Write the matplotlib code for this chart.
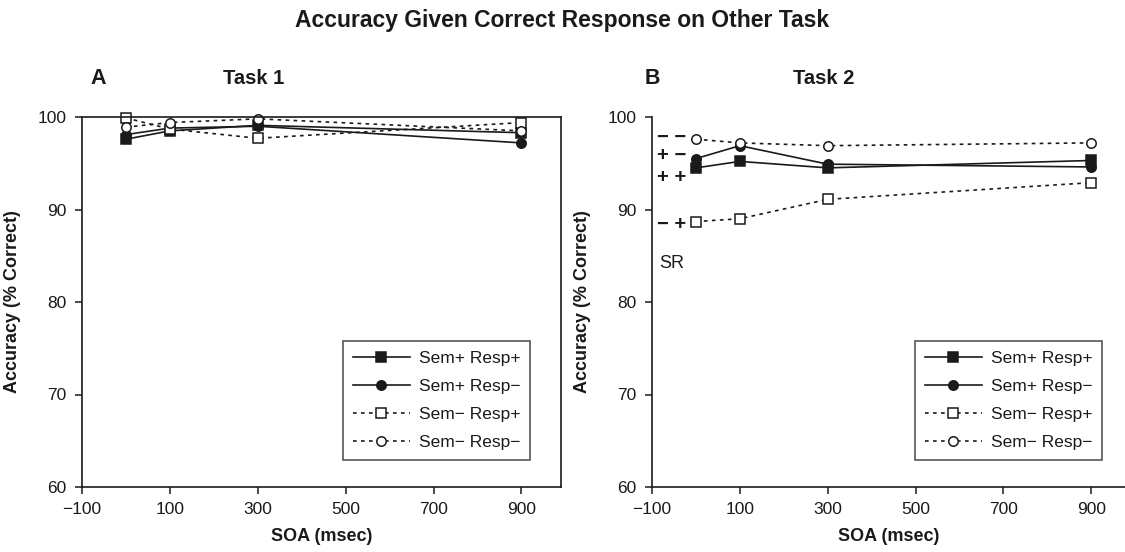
import matplotlib
matplotlib.use("Agg")
import matplotlib.pyplot as plt

plt.rcParams['font.family'] = ['Liberation Sans', 'DejaVu Sans']

soa = [0, 100, 300, 900]
series_labels = ["Sem+ Resp+", "Sem+ Resp\u2212", "Sem\u2212 Resp+", "Sem\u2212 Resp\u2212"]

task1_sp_rp = [97.6, 98.5, 99.1, 98.3]
task1_sp_rm = [98.1, 98.8, 99.0, 97.2]
task1_sm_rp = [99.9, 98.7, 97.7, 99.4]
task1_sm_rm = [98.9, 99.4, 99.8, 98.5]

task2_sp_rp = [94.5, 95.2, 94.5, 95.3]
task2_sp_rm = [95.5, 96.9, 94.9, 94.6]
task2_sm_rp = [88.7, 89.0, 91.1, 92.9]
task2_sm_rm = [97.6, 97.2, 96.9, 97.2]

sr_labels = ["\u2212 \u2212", "+ \u2212", "+ +", "\u2212 +"]
sr_label_y = [97.8, 95.8, 93.5, 88.4]

xticks = [-100, 100, 300, 500, 700, 900]
yticks = [60, 70, 80, 90, 100]

K = '#1a1a1a'
dash = (0, (2.2, 2.6))
styles = [
    dict(linestyle='-', marker='s', mfc=K, mec=K),
    dict(linestyle='-', marker='o', mfc=K, mec=K),
    dict(linestyle=dash, marker='s', mfc='white', mec=K),
    dict(linestyle=dash, marker='o', mfc='white', mec=K),
]

fig = plt.figure(figsize=(11.25, 5.52), dpi=100)
axA = fig.add_axes([82/1125, 65/552, 479/1125, 370/552])
axB = fig.add_axes([652/1125, 65/552, 473/1125, 370/552])


def draw(ax, data, xmax, box, legend_x):
    for vals, st, lab in zip(data, styles, series_labels):
        ax.plot(soa, vals, color=K, linewidth=1.2, markersize=6.8,
                markeredgewidth=1.1, label=lab, clip_on=False, **st)
    ax.set_xlim(-100, xmax)
    ax.set_ylim(60, 100)
    ax.set_xticks(xticks)
    ax.set_xticklabels([f"\u2212{abs(t)}" if t < 0 else str(t) for t in xticks])
    ax.set_yticks(yticks)
    ax.tick_params(direction='out', length=5, width=1.1, labelsize=12.5,
                   colors=K, pad=6)
    for s in ax.spines.values():
        s.set_linewidth(1.2)
        s.set_color(K)
    if not box:
        ax.spines['top'].set_visible(False)
        ax.spines['right'].set_visible(False)
    ax.set_xlabel("SOA (msec)", fontsize=13, fontweight='bold', color=K, labelpad=8)
    ax.set_ylabel("Accuracy (% Correct)", fontsize=13, fontweight='bold', color=K, labelpad=12)
    leg = ax.legend(loc='lower right', bbox_to_anchor=(legend_x, 0.073),
                    fontsize=12.5, frameon=True, fancybox=False, edgecolor=K,
                    handlelength=3.3, handletextpad=0.5, labelspacing=0.75,
                    borderpad=0.55, borderaxespad=0)
    leg.get_frame().set_linewidth(1.1)
    for t in leg.get_texts():
        t.set_color(K)


draw(axA, [task1_sp_rp, task1_sp_rm, task1_sm_rp, task1_sm_rm], 990, True, 0.935)
draw(axB, [task2_sp_rp, task2_sp_rm, task2_sm_rp, task2_sm_rm], 977, False, 0.951)

for lab, y in zip(sr_labels, sr_label_y):
    axB.text(-55, y, lab, ha='center', va='center', fontsize=14.5,
             fontweight='bold', color=K)
axB.text(-55, 84.2, "SR", ha='center', va='center', fontsize=13, color=K)

fig.text(562/1125, 1 - 21/552, "Accuracy Given Correct Response on Other Task",
         ha='center', va='center', fontsize=16.5, fontweight='bold', color=K)
fig.text(98/1125, 1 - 78/552, "A", ha='center', va='center', fontsize=15.5,
         fontweight='bold', color=K)
fig.text(254/1125, 1 - 78/552, "Task 1", ha='center', va='center', fontsize=14.5,
         fontweight='bold', color=K)
fig.text(652/1125, 1 - 78/552, "B", ha='center', va='center', fontsize=15.5,
         fontweight='bold', color=K)
fig.text(824/1125, 1 - 78/552, "Task 2", ha='center', va='center', fontsize=14.5,
         fontweight='bold', color=K)

fig.savefig("out.png", dpi=100)
